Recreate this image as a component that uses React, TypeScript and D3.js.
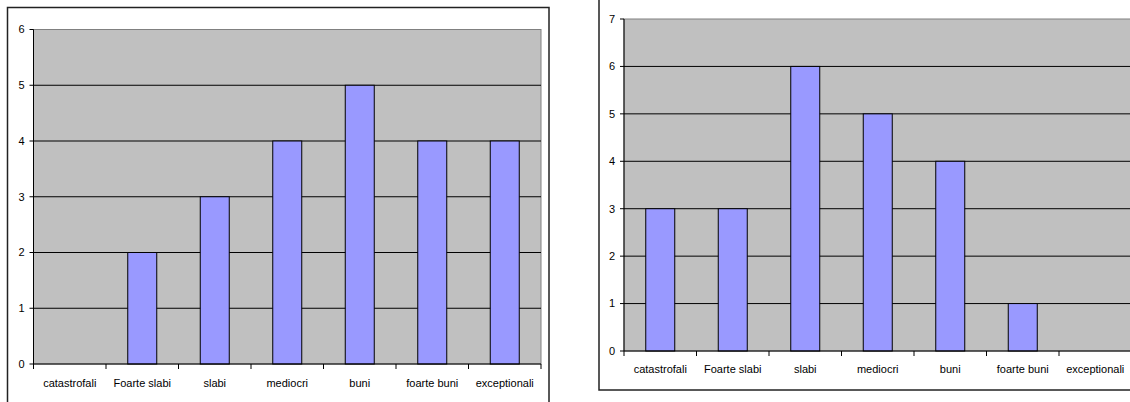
import React from "react";
import * as d3 from "d3";

const categories = [
  "catastrofali",
  "Foarte slabi",
  "slabi",
  "mediocri",
  "buni",
  "foarte buni",
  "exceptionali",
];
const valuesLeft = [0, 2, 3, 4, 5, 4, 4];
const valuesRight = [3, 3, 6, 5, 4, 1, 0];
const yTicksLeft = [0, 1, 2, 3, 4, 5, 6];
const yTicksRight = [0, 1, 2, 3, 4, 5, 6, 7];

const FONT = "'Liberation Sans', Arial, sans-serif";

type ChartProps = {
  box: { x: number; y: number; w: number; h: number };
  plot: { left: number; right: number; top: number; bottom: number };
  values: number[];
  yTicks: number[];
  labelY: number;
};

function Chart({ box, plot, values, yTicks, labelY }: ChartProps) {
  const yMax = yTicks[yTicks.length - 1];
  const y = d3.scaleLinear().domain([0, yMax]).range([plot.bottom, plot.top]);
  const x = d3
    .scaleBand<string>()
    .domain(categories)
    .range([plot.left, plot.right])
    .paddingInner(0.6)
    .paddingOuter(0.3);
  const step = x.step();
  const bw = x.bandwidth();
  const boundaries = d3.range(categories.length + 1).map((i) => plot.left + i * step);

  return (
    <g>
      <rect
        x={box.x}
        y={box.y}
        width={box.w}
        height={box.h}
        fill="#fff"
        stroke="#222"
        strokeWidth={1.5}
      />
      <rect
        x={plot.left}
        y={plot.top}
        width={plot.right - plot.left}
        height={plot.bottom - plot.top}
        fill="#C0C0C0"
        stroke="#808080"
        strokeWidth={1}
      />
      {yTicks
        .filter((t) => t > 0 && t < yMax)
        .map((t) => (
          <line
            key={"g" + t}
            x1={plot.left}
            x2={plot.right}
            y1={y(t)}
            y2={y(t)}
            stroke="#000"
            strokeWidth={1}
          />
        ))}
      {categories.map((c, i) =>
        values[i] > 0 ? (
          <rect
            key={"b" + c}
            x={x(c)!}
            y={y(values[i])}
            width={bw}
            height={y(0) - y(values[i])}
            fill="#9999FF"
            stroke="#000"
            strokeWidth={1}
          />
        ) : null
      )}
      {/* y axis */}
      <line x1={plot.left} x2={plot.left} y1={plot.top} y2={plot.bottom} stroke="#000" strokeWidth={1} />
      {yTicks.map((t) => (
        <g key={"yt" + t}>
          <line x1={plot.left - 4} x2={plot.left} y1={y(t)} y2={y(t)} stroke="#000" strokeWidth={1} />
          <text
            x={plot.left - 9}
            y={y(t)}
            dy="0.35em"
            textAnchor="end"
            fontFamily={FONT}
            fontSize={11}
            fill="#000"
          >
            {t}
          </text>
        </g>
      ))}
      {/* x axis */}
      <line x1={plot.left} x2={plot.right} y1={plot.bottom} y2={plot.bottom} stroke="#000" strokeWidth={1} />
      {boundaries.map((bx, i) => (
        <line key={"xt" + i} x1={bx} x2={bx} y1={plot.bottom} y2={plot.bottom + 5} stroke="#000" strokeWidth={1} />
      ))}
      {categories.map((c) => (
        <text
          key={"xl" + c}
          x={x(c)! + bw / 2}
          y={labelY}
          dy="0.35em"
          textAnchor="middle"
          fontFamily={FONT}
          fontSize={11}
          fill="#000"
        >
          {c}
        </text>
      ))}
    </g>
  );
}

export default function App() {
  return (
    <div style={{ position: "absolute", left: 0, top: 0 }}>
      <svg width={1130} height={402} style={{ display: "block" }}>
        <rect x={0} y={0} width={1130} height={402} fill="#fff" />
        <Chart
          box={{ x: 7.5, y: 7.5, w: 541.5, h: 420 }}
          plot={{ left: 33.5, right: 541, top: 29.5, bottom: 364 }}
          values={valuesLeft}
          yTicks={yTicksLeft}
          labelY={383}
        />
        <Chart
          box={{ x: 599, y: -10, w: 560, h: 400 }}
          plot={{ left: 624, right: 1131.5, top: 19, bottom: 351 }}
          values={valuesRight}
          yTicks={yTicksRight}
          labelY={369.5}
        />
      </svg>
    </div>
  );
}
